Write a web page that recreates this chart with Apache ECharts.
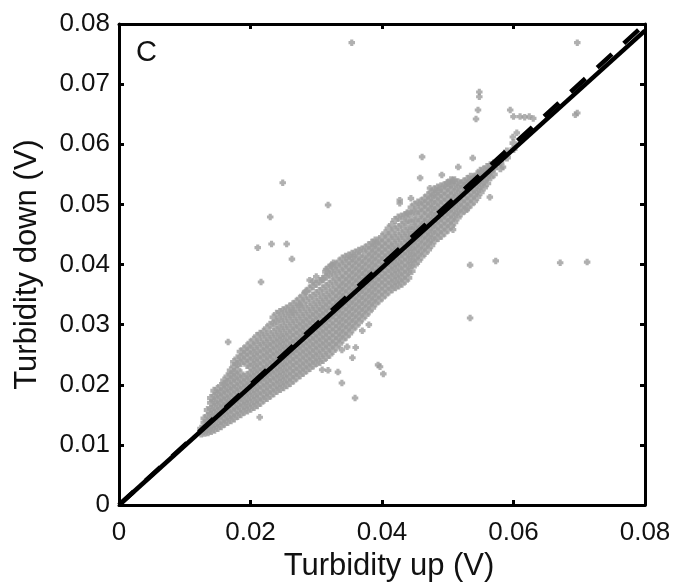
<!DOCTYPE html>
<html>
<head>
<meta charset="utf-8">
<script src="https://cdn.jsdelivr.net/npm/echarts@6/dist/echarts.min.js"></script>
<style>html,body{margin:0;padding:0;background:#fff;}#c{width:679px;height:587px;}</style>
</head>
<body>
<div id="c"></div>
<script>
// Axis ticks
const xTicks = [0, 0.02, 0.04, 0.06, 0.08];
const yTicks = [0, 0.01, 0.02, 0.03, 0.04, 0.05, 0.06, 0.07, 0.08];

// Dense band of points: each column = [turbidity up, list of turbidity down values]
const bandColumns = [
 [0.0125,[0.0119,0.0127]],
 [0.0130,[0.0120,0.0128,0.0137,0.0144]],
 [0.0135,[0.0121,0.0130,0.0139,0.0148,0.0158]],
 [0.0140,[0.0123,0.0132,0.0141,0.0150,0.0160,0.0170,0.0178]],
 [0.0145,[0.0125,0.0134,0.0144,0.0153,0.0163,0.0172,0.0182,0.0190]],
 [0.0150,[0.0128,0.0137,0.0147,0.0156,0.0166,0.0175,0.0185,0.0193]],
 [0.0155,[0.0131,0.0140,0.0150,0.0160,0.0169,0.0179,0.0188,0.0198]],
 [0.0160,[0.0135,0.0144,0.0154,0.0163,0.0173,0.0182,0.0192,0.0201,0.0207]],
 [0.0165,[0.0138,0.0147,0.0157,0.0167,0.0176,0.0186,0.0195,0.0205,0.0214]],
 [0.0170,[0.0141,0.0150,0.0160,0.0170,0.0179,0.0189,0.0198,0.0208,0.0217,0.0224]],
 [0.0175,[0.0144,0.0154,0.0164,0.0173,0.0183,0.0193,0.0202,0.0212,0.0221,0.0231,0.0238]],
 [0.0180,[0.0148,0.0158,0.0167,0.0177,0.0187,0.0196,0.0206,0.0215,0.0225,0.0234,0.0244]],
 [0.0185,[0.0151,0.0161,0.0171,0.0180,0.0190,0.0200,0.0209,0.0219,0.0236,0.0246,0.0255]],
 [0.0190,[0.0155,0.0165,0.0174,0.0184,0.0194,0.0203,0.0213,0.0240,0.0250,0.0259]],
 [0.0195,[0.0157,0.0167,0.0177,0.0187,0.0197,0.0207,0.0216,0.0233,0.0244,0.0254,0.0264]],
 [0.0200,[0.0160,0.0170,0.0180,0.0190,0.0200,0.0210,0.0220,0.0230,0.0240,0.0250,0.0260,0.0270]],
 [0.0205,[0.0163,0.0173,0.0183,0.0193,0.0203,0.0213,0.0223,0.0233,0.0243,0.0253,0.0263,0.0275]],
 [0.0210,[0.0166,0.0176,0.0186,0.0196,0.0206,0.0216,0.0226,0.0236,0.0246,0.0256,0.0268,0.0281]],
 [0.0215,[0.0170,0.0180,0.0190,0.0200,0.0210,0.0220,0.0230,0.0240,0.0250,0.0260,0.0271,0.0285]],
 [0.0220,[0.0175,0.0185,0.0195,0.0205,0.0215,0.0225,0.0235,0.0245,0.0255,0.0265,0.0276,0.0288]],
 [0.0225,[0.0178,0.0188,0.0198,0.0208,0.0218,0.0228,0.0238,0.0248,0.0258,0.0268,0.0280,0.0294]],
 [0.0230,[0.0182,0.0192,0.0202,0.0212,0.0222,0.0232,0.0242,0.0252,0.0262,0.0272,0.0284,0.0300]],
 [0.0235,[0.0186,0.0196,0.0206,0.0216,0.0226,0.0236,0.0246,0.0256,0.0266,0.0276,0.0288,0.0302,0.0312]],
 [0.0240,[0.0190,0.0200,0.0210,0.0220,0.0230,0.0240,0.0250,0.0260,0.0270,0.0280,0.0292,0.0305,0.0318]],
 [0.0245,[0.0193,0.0203,0.0213,0.0223,0.0233,0.0243,0.0253,0.0263,0.0273,0.0283,0.0295,0.0308,0.0321]],
 [0.0250,[0.0196,0.0206,0.0216,0.0226,0.0236,0.0246,0.0256,0.0266,0.0276,0.0286,0.0298,0.0311,0.0324]],
 [0.0255,[0.0199,0.0209,0.0219,0.0229,0.0239,0.0249,0.0259,0.0269,0.0279,0.0290,0.0302,0.0315,0.0327]],
 [0.0260,[0.0203,0.0213,0.0223,0.0233,0.0243,0.0253,0.0263,0.0273,0.0283,0.0294,0.0306,0.0318,0.0330]],
 [0.0265,[0.0207,0.0217,0.0227,0.0237,0.0247,0.0257,0.0267,0.0277,0.0287,0.0298,0.0310,0.0322,0.0334]],
 [0.0270,[0.0212,0.0222,0.0232,0.0242,0.0252,0.0262,0.0272,0.0282,0.0292,0.0302,0.0314,0.0326,0.0338]],
 [0.0275,[0.0216,0.0226,0.0236,0.0246,0.0256,0.0266,0.0276,0.0286,0.0296,0.0306,0.0318,0.0330,0.0343]],
 [0.0280,[0.0220,0.0230,0.0240,0.0250,0.0260,0.0270,0.0280,0.0290,0.0300,0.0310,0.0322,0.0335,0.0348]],
 [0.0285,[0.0224,0.0234,0.0244,0.0254,0.0264,0.0274,0.0284,0.0294,0.0304,0.0314,0.0326,0.0340,0.0355]],
 [0.0290,[0.0228,0.0238,0.0248,0.0258,0.0268,0.0278,0.0288,0.0298,0.0308,0.0318,0.0330,0.0344,0.0360]],
 [0.0295,[0.0232,0.0242,0.0252,0.0262,0.0272,0.0282,0.0292,0.0302,0.0312,0.0322,0.0334,0.0348,0.0364]],
 [0.0300,[0.0236,0.0246,0.0256,0.0266,0.0276,0.0286,0.0296,0.0306,0.0316,0.0326,0.0338,0.0352,0.0368]],
 [0.0305,[0.0238,0.0249,0.0260,0.0270,0.0280,0.0290,0.0300,0.0310,0.0320,0.0330,0.0342,0.0356,0.0372]],
 [0.0310,[0.0241,0.0253,0.0264,0.0274,0.0284,0.0294,0.0304,0.0314,0.0324,0.0334,0.0346,0.0360,0.0376]],
 [0.0315,[0.0246,0.0258,0.0268,0.0278,0.0288,0.0298,0.0308,0.0318,0.0328,0.0338,0.0350,0.0364,0.0380,0.0388]],
 [0.0320,[0.0250,0.0262,0.0272,0.0282,0.0292,0.0302,0.0312,0.0322,0.0332,0.0342,0.0354,0.0368,0.0383,0.0395]],
 [0.0325,[0.0256,0.0267,0.0277,0.0287,0.0297,0.0307,0.0317,0.0327,0.0337,0.0347,0.0358,0.0372,0.0386,0.0398]],
 [0.0330,[0.0262,0.0272,0.0282,0.0292,0.0302,0.0312,0.0322,0.0332,0.0342,0.0352,0.0363,0.0376,0.0389,0.0400]],
 [0.0335,[0.0268,0.0278,0.0288,0.0298,0.0308,0.0318,0.0328,0.0338,0.0348,0.0358,0.0368,0.0380,0.0393,0.0405]],
 [0.0340,[0.0275,0.0285,0.0295,0.0305,0.0315,0.0325,0.0335,0.0345,0.0355,0.0365,0.0375,0.0386,0.0398,0.0410]],
 [0.0345,[0.0280,0.0290,0.0300,0.0310,0.0320,0.0330,0.0340,0.0350,0.0360,0.0370,0.0380,0.0391,0.0402,0.0413]],
 [0.0350,[0.0285,0.0296,0.0306,0.0316,0.0326,0.0336,0.0346,0.0356,0.0366,0.0376,0.0386,0.0396,0.0406,0.0415]],
 [0.0355,[0.0292,0.0302,0.0312,0.0322,0.0332,0.0342,0.0352,0.0362,0.0372,0.0382,0.0392,0.0402,0.0411,0.0418]],
 [0.0360,[0.0298,0.0308,0.0318,0.0328,0.0338,0.0348,0.0358,0.0368,0.0378,0.0388,0.0398,0.0408,0.0420]],
 [0.0365,[0.0304,0.0314,0.0324,0.0334,0.0344,0.0354,0.0364,0.0374,0.0384,0.0394,0.0404,0.0414,0.0423]],
 [0.0370,[0.0310,0.0320,0.0330,0.0340,0.0350,0.0360,0.0370,0.0380,0.0390,0.0400,0.0410,0.0425]],
 [0.0375,[0.0316,0.0326,0.0336,0.0346,0.0356,0.0366,0.0376,0.0386,0.0396,0.0406,0.0416,0.0428]],
 [0.0380,[0.0322,0.0332,0.0342,0.0352,0.0362,0.0372,0.0382,0.0392,0.0402,0.0412,0.0422,0.0432]],
 [0.0385,[0.0328,0.0338,0.0348,0.0358,0.0368,0.0378,0.0388,0.0398,0.0408,0.0418,0.0428,0.0436]],
 [0.0390,[0.0335,0.0345,0.0355,0.0365,0.0375,0.0385,0.0395,0.0405,0.0415,0.0425,0.0435,0.0440]],
 [0.0395,[0.0340,0.0350,0.0360,0.0370,0.0380,0.0390,0.0400,0.0410,0.0420,0.0430,0.0440]],
 [0.0400,[0.0345,0.0355,0.0365,0.0375,0.0385,0.0395,0.0405,0.0415,0.0425,0.0435,0.0446]],
 [0.0405,[0.0350,0.0360,0.0370,0.0380,0.0390,0.0400,0.0410,0.0420,0.0430,0.0440,0.0452]],
 [0.0410,[0.0355,0.0365,0.0375,0.0385,0.0395,0.0405,0.0415,0.0425,0.0435,0.0447,0.0460]],
 [0.0415,[0.0359,0.0369,0.0379,0.0389,0.0399,0.0409,0.0419,0.0429,0.0440,0.0452,0.0466]],
 [0.0420,[0.0362,0.0372,0.0382,0.0392,0.0402,0.0412,0.0422,0.0432,0.0444,0.0458,0.0474]],
 [0.0425,[0.0365,0.0375,0.0385,0.0395,0.0405,0.0415,0.0425,0.0436,0.0448,0.0462,0.0478]],
 [0.0430,[0.0368,0.0378,0.0388,0.0398,0.0408,0.0418,0.0428,0.0440,0.0452,0.0466,0.0480]],
 [0.0435,[0.0373,0.0383,0.0393,0.0403,0.0413,0.0423,0.0433,0.0444,0.0456,0.0470,0.0482]],
 [0.0440,[0.0378,0.0388,0.0398,0.0408,0.0418,0.0428,0.0438,0.0448,0.0460,0.0473,0.0485]],
 [0.0445,[0.0389,0.0399,0.0409,0.0419,0.0429,0.0439,0.0449,0.0460,0.0472,0.0485,0.0495]],
 [0.0450,[0.0400,0.0410,0.0420,0.0430,0.0440,0.0450,0.0461,0.0473,0.0487,0.0500]],
 [0.0455,[0.0406,0.0416,0.0426,0.0436,0.0446,0.0456,0.0466,0.0478,0.0490,0.0503]],
 [0.0460,[0.0413,0.0423,0.0433,0.0443,0.0453,0.0463,0.0474,0.0486,0.0496,0.0505]],
 [0.0465,[0.0419,0.0429,0.0439,0.0449,0.0459,0.0469,0.0480,0.0491,0.0501,0.0510]],
 [0.0470,[0.0425,0.0435,0.0445,0.0455,0.0465,0.0475,0.0485,0.0496,0.0506,0.0515]],
 [0.0475,[0.0432,0.0442,0.0452,0.0462,0.0472,0.0482,0.0492,0.0502,0.0512,0.0520]],
 [0.0480,[0.0440,0.0450,0.0460,0.0470,0.0480,0.0490,0.0500,0.0510,0.0518,0.0525]],
 [0.0485,[0.0444,0.0454,0.0464,0.0474,0.0484,0.0494,0.0504,0.0514,0.0522,0.0528]],
 [0.0490,[0.0448,0.0458,0.0468,0.0478,0.0488,0.0498,0.0508,0.0518,0.0530]],
 [0.0495,[0.0453,0.0463,0.0473,0.0483,0.0493,0.0503,0.0513,0.0523,0.0532]],
 [0.0500,[0.0458,0.0468,0.0478,0.0488,0.0498,0.0508,0.0518,0.0528,0.0535]],
 [0.0505,[0.0464,0.0474,0.0484,0.0494,0.0504,0.0514,0.0524,0.0534,0.0540]],
 [0.0510,[0.0470,0.0480,0.0490,0.0500,0.0510,0.0520,0.0530,0.0540]],
 [0.0515,[0.0478,0.0488,0.0498,0.0508,0.0518,0.0528,0.0537]],
 [0.0520,[0.0485,0.0495,0.0505,0.0515,0.0525,0.0535]],
 [0.0525,[0.0490,0.0500,0.0510,0.0520,0.0530,0.0538]],
 [0.0530,[0.0495,0.0505,0.0515,0.0525,0.0535,0.0542]],
 [0.0535,[0.0500,0.0510,0.0520,0.0530,0.0540,0.0546]],
 [0.0540,[0.0505,0.0515,0.0525,0.0535,0.0545]],
 [0.0545,[0.0512,0.0522,0.0532,0.0542,0.0550]],
 [0.0550,[0.0520,0.0530,0.0540,0.0550,0.0556]],
 [0.0555,[0.0528,0.0538,0.0548,0.0558]],
 [0.0560,[0.0535,0.0545,0.0555,0.0562]],
 [0.0565,[0.0545,0.0555,0.0565]],
 [0.0570,[0.0550,0.0560,0.0568]],
 [0.0580,[0.0560,0.0570]],
 [0.0590,[0.0578,0.0588]],
 [0.0600,[0.0592,0.0602]]
];

// Scattered individual points away from the band
const outlierPoints = [
 [0.0354,0.0769],[0.0697,0.0769],[0.0548,0.0687],[0.0548,0.0679],[0.0546,0.0657],[0.0543,0.0642],
 [0.0595,0.0657],[0.0600,0.0646],[0.0610,0.0646],[0.0617,0.0645],[0.0624,0.0646],[0.0630,0.0643],
 [0.0694,0.0649],[0.0697,0.0652],[0.0461,0.0579],[0.0458,0.0544],[0.0491,0.0549],[0.0516,0.0562],
 [0.0538,0.0577],[0.0564,0.0512],[0.0534,0.0399],[0.0573,0.0406],[0.0671,0.0403],[0.0712,0.0404],
 [0.0427,0.0507],[0.0444,0.0510],[0.0584,0.0562],[0.0599,0.0612],[0.0605,0.0619],[0.0534,0.0311],
 [0.0394,0.0233],[0.0402,0.0218],[0.0359,0.0178],[0.0249,0.0536],[0.0230,0.0479],[0.0318,0.0499],
 [0.0211,0.0428],[0.0232,0.0434],[0.0255,0.0434],[0.0263,0.0409],[0.0216,0.0371],[0.0326,0.0403],
 [0.0290,0.0374],[0.0309,0.0374],[0.0283,0.0354],[0.0166,0.0271],[0.0214,0.0146],[0.0263,0.0321],
 [0.0275,0.0333],[0.0339,0.0258],[0.0309,0.0225],[0.0318,0.0224],[0.0333,0.0221],[0.0339,0.0203],
 [0.0347,0.0263],[0.0397,0.0230],[0.0355,0.0245],[0.0360,0.0262],[0.0370,0.0290],[0.0380,0.0300],
 [0.0438,0.0486],[0.0473,0.0527],[0.0508,0.0540],[0.0499,0.0536],[0.0529,0.0491],[0.0508,0.0458],
 [0.0300,0.0380],[0.0295,0.0372],[0.0315,0.0392],[0.0322,0.0398],[0.0427,0.0502]
];

// Regression line (solid) and 1:1 line (dashed)
const fitLine = [[0, 0], [0.08, 0.0789]];
const oneToOneLine = [[0, 0], [0.08, 0.08]];

const bandData = [];
bandColumns.forEach(function (col) { col[1].forEach(function (y) { bandData.push([col[0], y]); }); });

const FONT = "'Liberation Sans', Arial, sans-serif";
const fmt = function (v) { return v === 0 ? '0' : v.toFixed(2); };
const MARK = 'path://M1.3,0H3.7V1.3H5V3.7H3.7V5H1.3V3.7H0V1.3H1.3Z';

const chart = echarts.init(document.getElementById('c'), null, {renderer: 'canvas'});
chart.setOption({
  animation: false,
  backgroundColor: '#fff',
  grid: {left: 119, right: 34, top: 24, bottom: 82, containLabel: false},
  xAxis: [{
    type: 'value', min: 0, max: 0.08, interval: 0.02, position: 'bottom',
    axisLine: {show: true, onZero: false, lineStyle: {color: '#000', width: 3}},
    axisTick: {show: true, inside: true, length: 5, lineStyle: {color: '#000', width: 3}},
    axisLabel: {fontSize: 26, color: '#111', fontFamily: FONT, margin: 15, formatter: fmt},
    splitLine: {show: false},
    name: 'Turbidity up (V)', nameLocation: 'middle', nameGap: 42,
    nameTextStyle: {fontSize: 31, color: '#111', fontFamily: FONT, padding: [0, 0, 0, 14]}
  }, {
    type: 'value', min: 0, max: 0.08, interval: 0.02, position: 'top',
    axisLine: {show: true, onZero: false, lineStyle: {color: '#000', width: 3}},
    axisTick: {show: true, inside: true, length: 5, lineStyle: {color: '#000', width: 3}},
    axisLabel: {show: false}, splitLine: {show: false}
  }],
  yAxis: [{
    type: 'value', min: 0, max: 0.08, interval: 0.01, position: 'left',
    axisLine: {show: true, onZero: false, lineStyle: {color: '#000', width: 3}},
    axisTick: {show: true, inside: true, length: 5, lineStyle: {color: '#000', width: 3}},
    axisLabel: {fontSize: 26, color: '#111', fontFamily: FONT, margin: 9, formatter: fmt},
    splitLine: {show: false},
    name: 'Turbidity down (V)', nameLocation: 'middle', nameGap: 76,
    nameTextStyle: {fontSize: 31, color: '#111', fontFamily: FONT}
  }, {
    type: 'value', min: 0, max: 0.08, interval: 0.01, position: 'right',
    axisLine: {show: true, onZero: false, lineStyle: {color: '#000', width: 3}},
    axisTick: {show: true, inside: true, length: 5, lineStyle: {color: '#000', width: 3}},
    axisLabel: {show: false}, splitLine: {show: false}
  }],
  graphic: [{
    type: 'text', left: 136, top: 38,
    style: {text: 'C', font: '29px ' + FONT, fill: '#111'}
  }],
  series: [{
    type: 'scatter', xAxisIndex: 0, yAxisIndex: 0, data: bandData,
    symbol: MARK, symbolSize: 8,
    itemStyle: {color: '#9c9c9c'}, large: false, z: 2
  }, {
    type: 'scatter', xAxisIndex: 0, yAxisIndex: 0, data: outlierPoints,
    symbol: MARK, symbolSize: 6.5,
    itemStyle: {color: '#9c9c9c'}, large: false, z: 2
  }, {
    type: 'line', xAxisIndex: 0, yAxisIndex: 0, data: oneToOneLine, symbol: 'none',
    lineStyle: {color: '#000', width: 4.5, type: [20, 16]}, z: 3
  }, {
    type: 'line', xAxisIndex: 0, yAxisIndex: 0, data: fitLine, symbol: 'none',
    lineStyle: {color: '#000', width: 4.5}, z: 4
  }]
});
</script>
</body>
</html>
